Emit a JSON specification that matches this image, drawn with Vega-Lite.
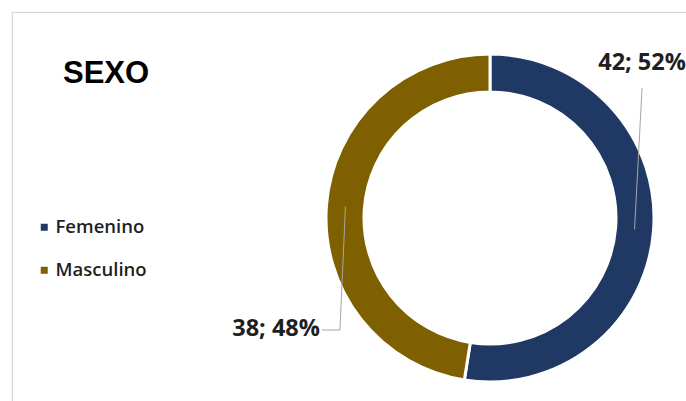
{
  "$schema": "https://vega.github.io/schema/vega-lite/v6.json",
  "width": 686,
  "height": 401,
  "autosize": "none",
  "padding": {"left": 12, "top": 12, "right": 0, "bottom": 0},
  "background": "white",
  "title": {
    "text": "SEXO",
    "anchor": "start",
    "frame": "group",
    "orient": "top",
    "baseline": "alphabetic",
    "offset": -102,
    "dx": 51,
    "font": "Liberation Sans",
    "fontSize": 31,
    "fontWeight": "bold",
    "color": "#000000"
  },
  "config": {
    "view": {"stroke": "#d9d9d9", "strokeWidth": 1.2},
    "legend": {"padding": 0}
  },
  "data": {
    "values": [
      {"sexo": "Femenino", "n": 42, "pct": 52},
      {"sexo": "Masculino", "n": 38, "pct": 48}
    ]
  },
  "transform": [
    {"joinaggregate": [{"op": "sum", "field": "n", "as": "total"}]},
    {"stack": "n", "groupby": [], "sort": [{"field": "sexo", "order": "ascending"}], "as": ["s0", "s1"]},
    {"calculate": "PI * (datum.s0 + datum.s1) / datum.total", "as": "mid"},
    {"calculate": "145 * sin(datum.mid)", "as": "ax"},
    {"calculate": "145 * cos(datum.mid)", "as": "ay"},
    {"calculate": "datum.n + '; ' + datum.pct + '%'", "as": "label"}
  ],
  "layer": [
    {
      "mark": {"type": "arc", "innerRadius": 126, "outerRadius": 164, "stroke": "white", "strokeWidth": 3},
      "encoding": {
        "x": {"datum": 0, "type": "quantitative", "scale": {"domain": [-478, 208], "nice": false, "zero": false}, "axis": null},
        "y": {"datum": 0, "type": "quantitative", "scale": {"domain": [-195, 206], "nice": false, "zero": false}, "axis": null},
        "theta": {"field": "n", "type": "quantitative"},
        "order": {"field": "s0", "type": "quantitative"},
        "color": {
          "field": "sexo",
          "type": "nominal",
          "scale": {"domain": ["Femenino", "Masculino"], "range": ["#203864", "#7f6000"]},
          "legend": {
            "title": null,
            "orient": "none",
            "legendX": 23,
            "legendY": 206,
            "symbolType": "square",
            "symbolSize": 49,
            "symbolStrokeWidth": 0,
            "labelFont": "Open Sans",
            "labelFontSize": 18.5,
            "labelFontWeight": 600,
            "labelColor": "#1f1f1f",
            "labelOffset": 2,
            "rowPadding": 24
          }
        }
      }
    },
    {
      "transform": [
        {"filter": "datum.sexo == 'Femenino'"},
        {"calculate": "datum.ax + 7.5", "as": "bx"},
        {"calculate": "datum.ay + 141.4", "as": "by"}
      ],
      "mark": {"type": "rule", "color": "#a6a6a6", "strokeWidth": 1},
      "encoding": {
        "x": {"field": "ax", "type": "quantitative"},
        "y": {"field": "ay", "type": "quantitative"},
        "x2": {"field": "bx"},
        "y2": {"field": "by"}
      }
    },
    {
      "transform": [
        {"filter": "datum.sexo == 'Masculino'"},
        {"calculate": "datum.ax - 5.5", "as": "bx"},
        {"calculate": "datum.ay - 123.4", "as": "by"}
      ],
      "mark": {"type": "rule", "color": "#a6a6a6", "strokeWidth": 1},
      "encoding": {
        "x": {"field": "ax", "type": "quantitative"},
        "y": {"field": "ay", "type": "quantitative"},
        "x2": {"field": "bx"},
        "y2": {"field": "by"}
      }
    },
    {
      "transform": [
        {"filter": "datum.sexo == 'Masculino'"},
        {"calculate": "datum.ax - 5.5", "as": "bx"},
        {"calculate": "datum.ax - 23.5", "as": "cx"},
        {"calculate": "datum.ay - 123.4", "as": "by"}
      ],
      "mark": {"type": "rule", "color": "#a6a6a6", "strokeWidth": 1},
      "encoding": {
        "x": {"field": "bx", "type": "quantitative"},
        "y": {"field": "by", "type": "quantitative"},
        "x2": {"field": "cx"}
      }
    },
    {
      "transform": [
        {"filter": "datum.sexo == 'Femenino'"},
        {"calculate": "datum.ax + 7.5", "as": "lx"},
        {"calculate": "datum.ay + 165.9", "as": "ly"}
      ],
      "mark": {"type": "text", "align": "center", "baseline": "middle", "font": "Open Sans", "fontSize": 23.5, "fontWeight": "bold", "color": "#1f1f1f"},
      "encoding": {
        "x": {"field": "lx", "type": "quantitative"},
        "y": {"field": "ly", "type": "quantitative"},
        "text": {"field": "label"}
      }
    },
    {
      "transform": [
        {"filter": "datum.sexo == 'Masculino'"},
        {"calculate": "datum.ax - 25.5", "as": "lx"},
        {"calculate": "datum.ay - 121.9", "as": "ly"}
      ],
      "mark": {"type": "text", "align": "right", "baseline": "middle", "font": "Open Sans", "fontSize": 23.5, "fontWeight": "bold", "color": "#1f1f1f"},
      "encoding": {
        "x": {"field": "lx", "type": "quantitative"},
        "y": {"field": "ly", "type": "quantitative"},
        "text": {"field": "label"}
      }
    }
  ]
}
